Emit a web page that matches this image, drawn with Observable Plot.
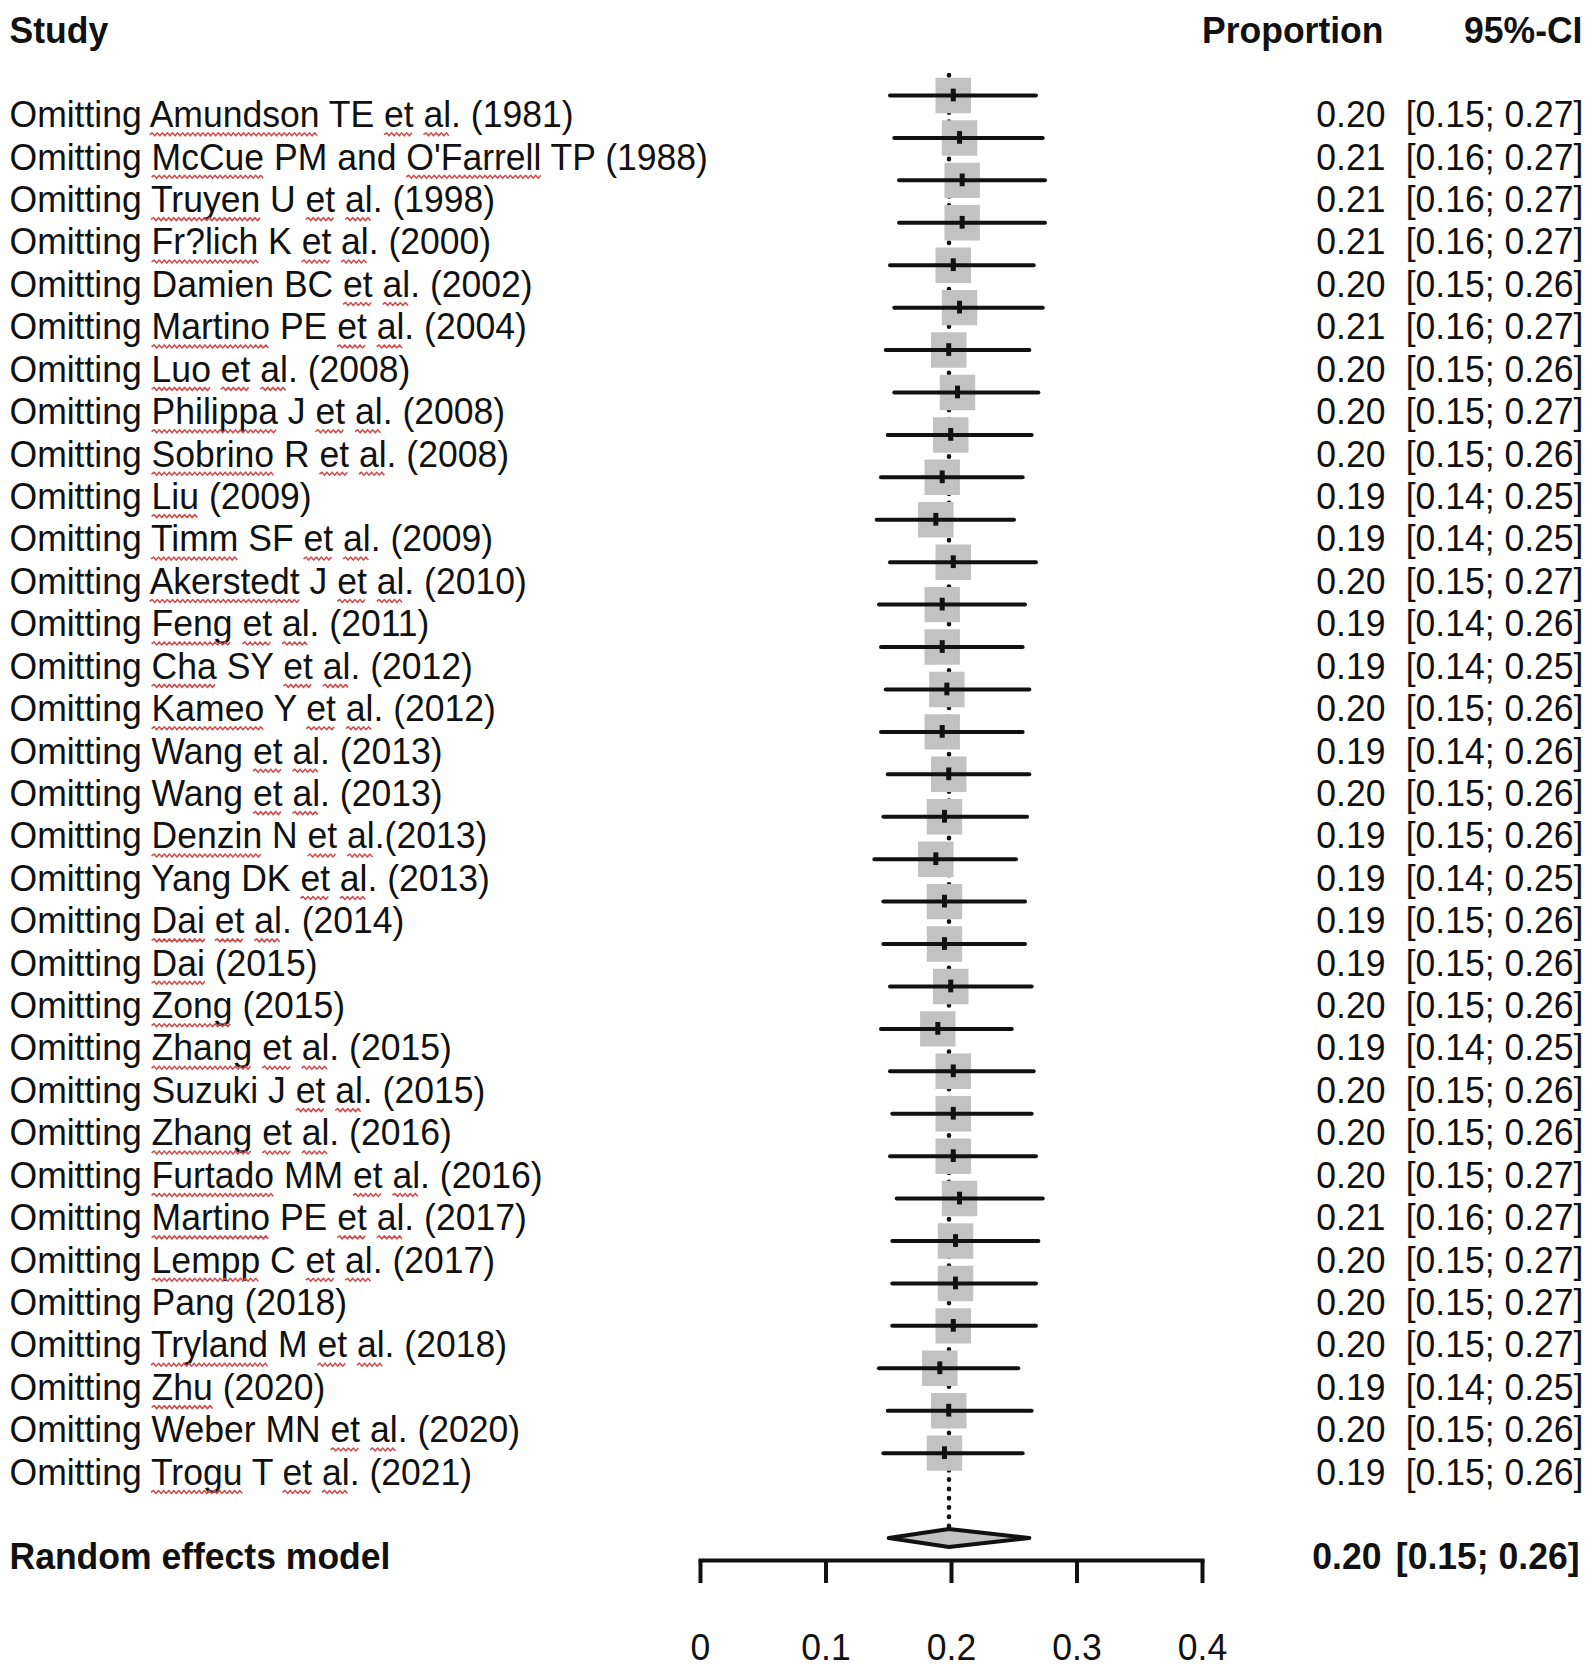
<!DOCTYPE html>
<html>
<head>
<meta charset="utf-8">
<script src="https://cdn.jsdelivr.net/npm/d3@7"></script>
<script src="https://cdn.jsdelivr.net/npm/@observablehq/plot@0.6"></script>
<style>
  html, body { margin: 0; padding: 0; background: #fff; }
  #chart svg { display: block; }
</style>
</head>
<body>
<div id="chart"></div>
<script>
const studies = [
  "Omitting Amundson TE et al. (1981)",
  "Omitting McCue PM and O'Farrell TP (1988)",
  "Omitting Truyen U et al. (1998)",
  "Omitting Fr?lich K et al. (2000)",
  "Omitting Damien BC et al. (2002)",
  "Omitting Martino PE et al. (2004)",
  "Omitting Luo et al. (2008)",
  "Omitting Philippa J et al. (2008)",
  "Omitting Sobrino R et al. (2008)",
  "Omitting Liu (2009)",
  "Omitting Timm SF et al. (2009)",
  "Omitting Akerstedt J et al. (2010)",
  "Omitting Feng et al. (2011)",
  "Omitting Cha SY et al. (2012)",
  "Omitting Kameo Y et al. (2012)",
  "Omitting Wang et al. (2013)",
  "Omitting Wang et al. (2013)",
  "Omitting Denzin N et al.(2013)",
  "Omitting Yang DK et al. (2013)",
  "Omitting Dai et al. (2014)",
  "Omitting Dai (2015)",
  "Omitting Zong (2015)",
  "Omitting Zhang et al. (2015)",
  "Omitting Suzuki J et al. (2015)",
  "Omitting Zhang et al. (2016)",
  "Omitting Furtado MM et al. (2016)",
  "Omitting Martino PE et al. (2017)",
  "Omitting Lempp C et al. (2017)",
  "Omitting Pang (2018)",
  "Omitting Tryland M et al. (2018)",
  "Omitting Zhu (2020)",
  "Omitting Weber MN et al. (2020)",
  "Omitting Trogu T et al. (2021)"
];
// words carrying the red spell-check squiggle in the source image
const flaggedWords = [
  ["Amundson","et","al"], ["McCue","O'Farrell"], ["Truyen","et","al"], ["Fr?lich","et","al"],
  ["et","al"], ["Martino","et","al"], ["Luo","et","al"], ["Philippa","et","al"], ["Sobrino","et","al"],
  ["Liu"], ["Timm","et","al"], ["Akerstedt","et","al"], ["Feng","et","al"], ["Cha","et","al"],
  ["Kameo","et","al"], ["et","al"], ["et","al"], ["Denzin","et","al"], ["et","al"], ["Dai","et","al"],
  ["Dai"], ["Zong"], ["Zhang","et","al"], ["et","al"], ["Zhang","et","al"], ["Furtado","et","al"],
  ["Martino","et","al"], ["Lempp","et","al"], [], ["Tryland","et","al"], ["Zhu"], ["et","al"], ["Trogu","et","al"]
];
const estimate = [0.2014,0.2064,0.2085,0.2085,0.2014,0.2064,0.1978,0.2048,0.1994,0.1926,0.1875,0.2014,0.1926,0.1926,0.1963,0.1926,0.1978,0.1944,0.1875,0.1944,0.1944,0.1994,0.1891,0.2014,0.2014,0.2014,0.2064,0.2032,0.2032,0.2014,0.1907,0.1978,0.1944];
const lower = [0.1514,0.1548,0.1586,0.1586,0.1514,0.1548,0.1480,0.1548,0.1496,0.1442,0.1408,0.1514,0.1426,0.1442,0.1480,0.1442,0.1496,0.1461,0.1389,0.1461,0.1461,0.1514,0.1442,0.1514,0.1532,0.1514,0.1567,0.1532,0.1532,0.1532,0.1426,0.1496,0.1461];
const upper = [0.2677,0.2731,0.2749,0.2749,0.2659,0.2731,0.2624,0.2696,0.2643,0.2571,0.2502,0.2677,0.2590,0.2571,0.2624,0.2571,0.2624,0.2606,0.2518,0.2590,0.2590,0.2643,0.2484,0.2659,0.2643,0.2677,0.2731,0.2696,0.2677,0.2677,0.2536,0.2643,0.2571];
const propText = ["0.20","0.21","0.21","0.21","0.20","0.21","0.20","0.20","0.20","0.19","0.19","0.20","0.19","0.19","0.20","0.19","0.20","0.19","0.19","0.19","0.19","0.20","0.19","0.20","0.20","0.20","0.21","0.20","0.20","0.20","0.19","0.20","0.19"];
const ciText = ["[0.15; 0.27]","[0.16; 0.27]","[0.16; 0.27]","[0.16; 0.27]","[0.15; 0.26]","[0.16; 0.27]","[0.15; 0.26]","[0.15; 0.27]","[0.15; 0.26]","[0.14; 0.25]","[0.14; 0.25]","[0.15; 0.27]","[0.14; 0.26]","[0.14; 0.25]","[0.15; 0.26]","[0.14; 0.26]","[0.15; 0.26]","[0.15; 0.26]","[0.14; 0.25]","[0.15; 0.26]","[0.15; 0.26]","[0.15; 0.26]","[0.14; 0.25]","[0.15; 0.26]","[0.15; 0.26]","[0.15; 0.27]","[0.16; 0.27]","[0.15; 0.27]","[0.15; 0.27]","[0.15; 0.27]","[0.14; 0.25]","[0.15; 0.26]","[0.15; 0.26]"];
const pooledLabel = "Random effects model";
const pooledEst = 0.198;
const pooledLower = 0.150;
const pooledUpper = 0.262;
const pooledPropText = "0.20";
const pooledCiText = "[0.15; 0.26]";
const xTicks = [0, 0.1, 0.2, 0.3, 0.4];
const headerStudy = "Study";
const headerProp = "Proportion";
const headerCI = "95%-CI";

const rows = studies.map((s, k) => ({
  i: k + 1, study: s, est: estimate[k], lo: lower[k], hi: upper[k], p: propText[k], ci: ciText[k]
}));
const pooledRow = studies.length + 2;
const dh = 0.21;
const diamond = [
  {x: pooledLower, y: pooledRow},
  {x: pooledEst, y: pooledRow - dh},
  {x: pooledUpper, y: pooledRow},
  {x: pooledEst, y: pooledRow + dh},
  {x: pooledLower, y: pooledRow}
];

// Source typeface is a slightly condensed Arial: Liberation Sans, squeezed horizontally
const FF = "'Liberation Sans', Arial, sans-serif";
const FS = 37.8;
const SQUEEZE = 0.94;

const gray = "#c2c2c2";
const ink = "#111";
const textDy = 19.5;
const common = {fontSize: FS, fill: ink, lineAnchor: "middle"};

const chart = Plot.plot({
  width: 1595,
  height: 1668,
  marginLeft: 700,
  marginRight: 393,
  marginTop: 0,
  marginBottom: 108,
  style: {fontFamily: FF, fontSize: FS + "px", color: ink, background: "#fff"},
  x: {domain: [0, 0.4], axis: null},
  y: {type: "linear", domain: [1, pooledRow], range: [95, 1537.5], axis: null},
  marks: [
    Plot.ruleX([pooledEst], {x: d => d, y1: 0.53, y2: pooledRow - dh, stroke: ink, strokeWidth: 4.5, strokeDasharray: "0.5,8.8", strokeLinecap: "round"}),
    Plot.dot(rows, {x: "est", y: "i", symbol: "square", r: 20, fill: gray, stroke: "none"}),
    Plot.ruleY(rows, {y: "i", x1: "lo", x2: "hi", stroke: ink, strokeWidth: 4, strokeLinecap: "round"}),
    Plot.ruleX(rows, {x: "est", y1: d => d.i - 0.15, y2: d => d.i + 0.15, stroke: ink, strokeWidth: 5, strokeLinecap: "butt"}),
    Plot.line(diamond, {x: "x", y: "y", fill: gray, stroke: ink, strokeWidth: 4, strokeLinejoin: "round"}),
    Plot.frame({anchor: "bottom", stroke: ink, strokeWidth: 4}),
    Plot.axisX({ticks: xTicks, tickFormat: d => d === 0 ? "0" : String(d), tickSize: 23, tickPadding: 50, strokeWidth: 4, stroke: ink, fill: ink, fontSize: FS}),
    Plot.text([headerStudy], {...common, frameAnchor: "top-left", dx: 9 - 700, dy: 30.7, text: d => d, textAnchor: "start", fontWeight: "bold"}),
    Plot.text([headerProp], {...common, frameAnchor: "top-right", dx: 1383 - 1202, dy: 30.7, text: d => d, textAnchor: "end", fontWeight: "bold"}),
    Plot.text([headerCI], {...common, frameAnchor: "top-right", dx: 1582 - 1202, dy: 30.7, text: d => d, textAnchor: "end", fontWeight: "bold"}),
    Plot.text(rows, {...common, y: "i", frameAnchor: "left", dx: 9 - 700, dy: textDy, text: "study", textAnchor: "start"}),
    Plot.text(rows, {...common, y: "i", frameAnchor: "right", dx: 1385 - 1202, dy: textDy, text: "p", textAnchor: "end"}),
    Plot.text(rows, {...common, y: "i", frameAnchor: "right", dx: 1583 - 1202, dy: textDy, text: "ci", textAnchor: "end"}),
    Plot.text([pooledLabel], {...common, y: pooledRow, frameAnchor: "left", dx: 9 - 700, dy: 19, text: d => d, textAnchor: "start", fontWeight: "bold"}),
    Plot.text([pooledPropText], {...common, y: pooledRow, frameAnchor: "right", dx: 1381 - 1202, dy: 19, text: d => d, textAnchor: "end", fontWeight: "bold"}),
    Plot.text([pooledCiText], {...common, y: pooledRow, frameAnchor: "right", dx: 1579 - 1202, dy: 19, text: d => d, textAnchor: "end", fontWeight: "bold"})
  ]
});
document.getElementById("chart").appendChild(chart);

// condense every text horizontally around its own anchor (Plot places texts by transform)
chart.querySelectorAll("text").forEach(t => {
  const tr = t.getAttribute("transform");
  if (tr && !t.hasAttribute("x")) t.setAttribute("transform", `${tr} scale(${SQUEEZE},1)`);
});

// red wavy spell-check squiggles under flagged words (positions taken from the rendered text)
const svgNS = "http://www.w3.org/2000/svg";
const studyTexts = Array.from(chart.querySelectorAll("text")).filter(t => studies.includes(t.textContent));
studyTexts.forEach((t, k) => {
  const words = new Set(flaggedWords[k] || []);
  const s = t.textContent;
  const re = /[A-Za-z?']+/g;
  let m;
  while ((m = re.exec(s))) {
    if (!words.has(m[0])) continue;
    const p0 = t.getStartPositionOfChar(m.index);
    const p1 = t.getEndPositionOfChar(m.index + m[0].length - 1);
    const y = p0.y + 7.5;
    const step = 2.7;
    let d = `M${p0.x.toFixed(2)},${y.toFixed(2)}`;
    let up = true;
    for (let xx = p0.x + step; xx <= p1.x + 0.01; xx += step) {
      d += ` L${xx.toFixed(2)},${(up ? y - 1.8 : y + 1.2).toFixed(2)}`;
      up = !up;
    }
    const path = document.createElementNS(svgNS, "path");
    path.setAttribute("d", d);
    path.setAttribute("fill", "none");
    path.setAttribute("stroke", "#d24b4b");
    path.setAttribute("stroke-width", "1.6");
    path.setAttribute("stroke-linejoin", "round");
    const tr = t.getAttribute("transform");
    if (tr) path.setAttribute("transform", tr);
    t.parentNode.appendChild(path);
  }
});
</script>
</body>
</html>
